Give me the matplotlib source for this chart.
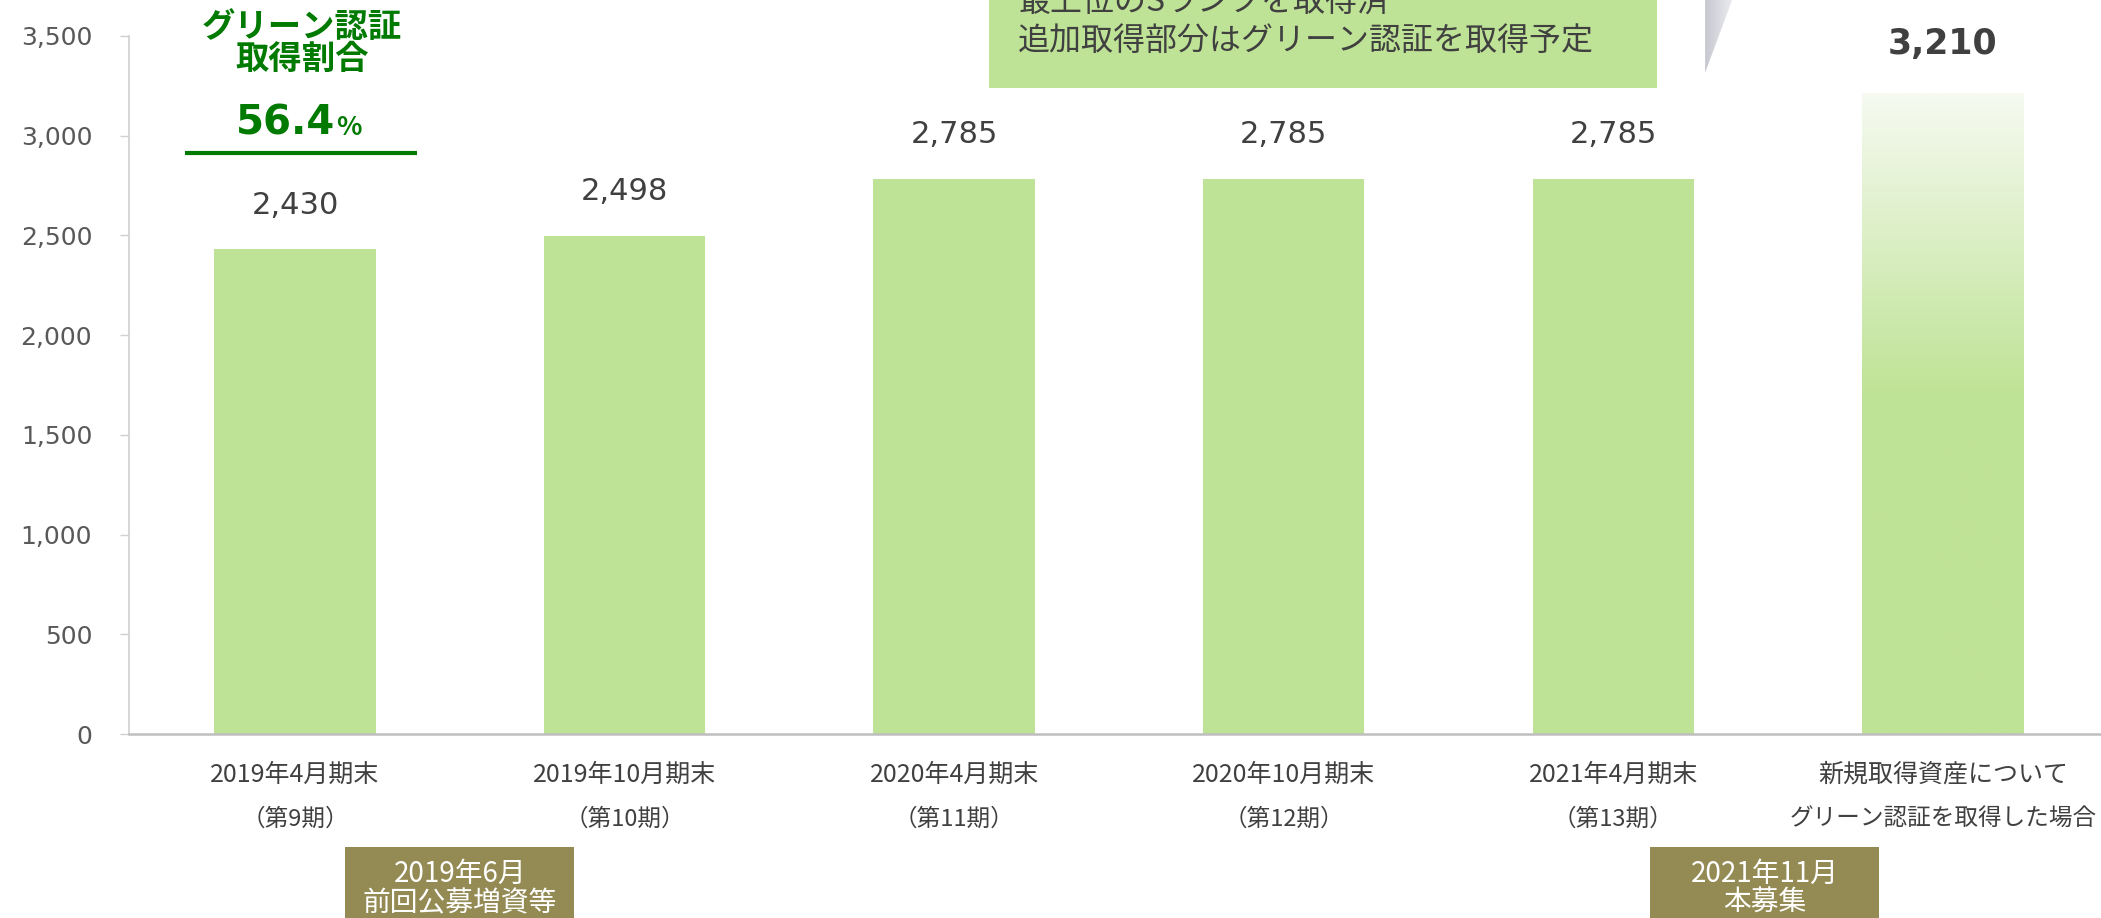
import numpy as np
import matplotlib
matplotlib.use("Agg")
import matplotlib.pyplot as plt
import matplotlib.transforms as mtransforms
from matplotlib.patches import Rectangle, Polygon

plt.rcParams['font.family'] = ['Noto Sans CJK JP', 'DejaVu Sans']
NUM_FONT = ['DejaVu Sans']

# data
periods = ["2019年4月期末", "2019年10月期末", "2020年4月期末", "2020年10月期末", "2021年4月期末", "新規取得資産について"]
sub_labels = ["（第9期）", "（第10期）", "（第11期）", "（第12期）", "（第13期）", "グリーン認証を取得した場合"]
values = [2430, 2498, 2785, 2785, 2785, 3210]
yticks = [0, 500, 1000, 1500, 2000, 2500, 3000, 3500]
green_ratio = "56.4"
events = [(0.5, "2019年6月\n前回公募増資等"), (4.46, "2021年11月\n本募集")]
callout_lines = ["最上位のSランクを取得済", "追加取得部分はグリーン認証を取得予定"]

bar_green = "#BFE396"
dark_green = "#007A00"
text_gray = "#404040"
olive = "#948B54"

fig = plt.figure(figsize=(21.01, 9.18), dpi=100)
ax = fig.add_axes([129/2101, 184/918, 1 - 129/2101, 698/918])

x = np.arange(len(values))
w = 0.49
ax.bar(x[:-1], values[:-1], width=w, color=bar_green, zorder=2)

# last bar: gradient fading to white at top
solid = 1710
grad = np.ones((256, 1, 4))
base = np.array(matplotlib.colors.to_rgba(bar_green))
top = np.array(matplotlib.colors.to_rgba("#F6FAF1"))
ys = np.linspace(0, values[-1], 256)
for i, yv in enumerate(ys):
    t = 0 if yv < solid else (yv - solid) / (values[-1] - solid)
    grad[i, 0] = base * (1 - t) + top * t
ax.imshow(grad, extent=[x[-1] - w/2, x[-1] + w/2, 0, values[-1]], origin="lower",
          aspect="auto", zorder=2, interpolation="bilinear")

ax.set_xlim(-0.504, 5.48)
ax.set_ylim(0, 3500)

for sp in ["top", "right"]:
    ax.spines[sp].set_visible(False)
ax.spines["left"].set_color("#D0D0D0")
ax.spines["left"].set_linewidth(1.2)
ax.spines["bottom"].set_color("#BFBFBF")
ax.spines["bottom"].set_linewidth(1.8)

ax.set_yticks(yticks)
ax.set_yticklabels([f"{v:,}" for v in yticks], fontsize=18, color="#595959", family=NUM_FONT)
ax.tick_params(axis="y", length=6.5, width=1, color="#D0D0D0", pad=20)
ax.set_xticks([])

# value labels
for xi, v in zip(x, values):
    last = xi == x[-1]
    ax.annotate(f"{v:,}", (xi, v), xytext=(0, 36 if last else 31.7), textcoords="offset points",
                ha="center", va="center", fontsize=25 if last else 22, color=text_gray,
                fontweight="bold" if last else "normal", family=NUM_FONT)

# category labels
tr = mtransforms.blended_transform_factory(ax.transData, fig.transFigure)
for xi, a, b in zip(x, periods, sub_labels):
    ax.text(xi, 1 - 775/918, a, transform=tr, ha="center", va="center", fontsize=18, color=text_gray)
    ax.text(xi, 1 - 819/918, b, transform=tr, ha="center", va="center", fontsize=17, color=text_gray)

# green certification ratio
ax.text(0.02, 3545, "グリーン認証", ha="center", va="center", fontsize=24, fontweight="bold", color=dark_green)
ax.text(0.02, 3385, "取得割合", ha="center", va="center", fontsize=24, fontweight="bold", color=dark_green)
ax.text(0.121, 3004, green_ratio, ha="right", va="baseline", fontsize=29, fontweight="bold",
        color=dark_green, family=NUM_FONT)
ax.text(0.125, 3004, "%", ha="left", va="baseline", fontsize=19, fontweight="bold", color=dark_green)
ax.plot([-0.334, 0.370], [2913, 2913], color=dark_green, lw=3, solid_capstyle="butt", clip_on=False)

# event boxes below the axis
for ex, label in events:
    ax.add_patch(Rectangle((ex - 0.3475, 0), 0.695, 1 - 847/918, transform=tr,
                           facecolor=olive, edgecolor="none", clip_on=False))
    l1, l2 = label.split("\n")
    ax.text(ex, 1 - 874/918, l1, transform=tr, ha="center", va="center", fontsize=20, color="white")
    ax.text(ex, 1 - 903/918, l2, transform=tr, ha="center", va="center", fontsize=20, color="white")

# callout box at the top
fig.patches.append(Rectangle((989/2101, 1 - 88/918), (1657 - 989)/2101, 88/918,
                             transform=fig.transFigure, facecolor=bar_green, edgecolor="none"))
fig.text(1018/2101, 1 - 3/918, callout_lines[0], ha="left", va="center", fontsize=23, color=text_gray)
fig.text(1018/2101, 1 - 41/918, callout_lines[1], ha="left", va="center", fontsize=23, color=text_gray)

# gray pointer sliver
pax = fig.add_axes([1703/2101, 1 - 75/918, 30/2101, 75/918])
pax.axis("off")
g = np.linspace(0, 1, 64)[None, :]
img = pax.imshow(g, extent=[0, 1, 0, 1], cmap=matplotlib.colors.LinearSegmentedColormap.from_list(
    "gr", ["#C4C6CE", "#ECECF0"]), aspect="auto")
tri = Polygon([(0.07, 1), (0.97, 1), (0.07, 0.03)], closed=True, transform=pax.transData)
img.set_clip_path(tri)
pax.set_xlim(0, 1)
pax.set_ylim(0, 1)

fig.savefig("out.png", dpi=100)
